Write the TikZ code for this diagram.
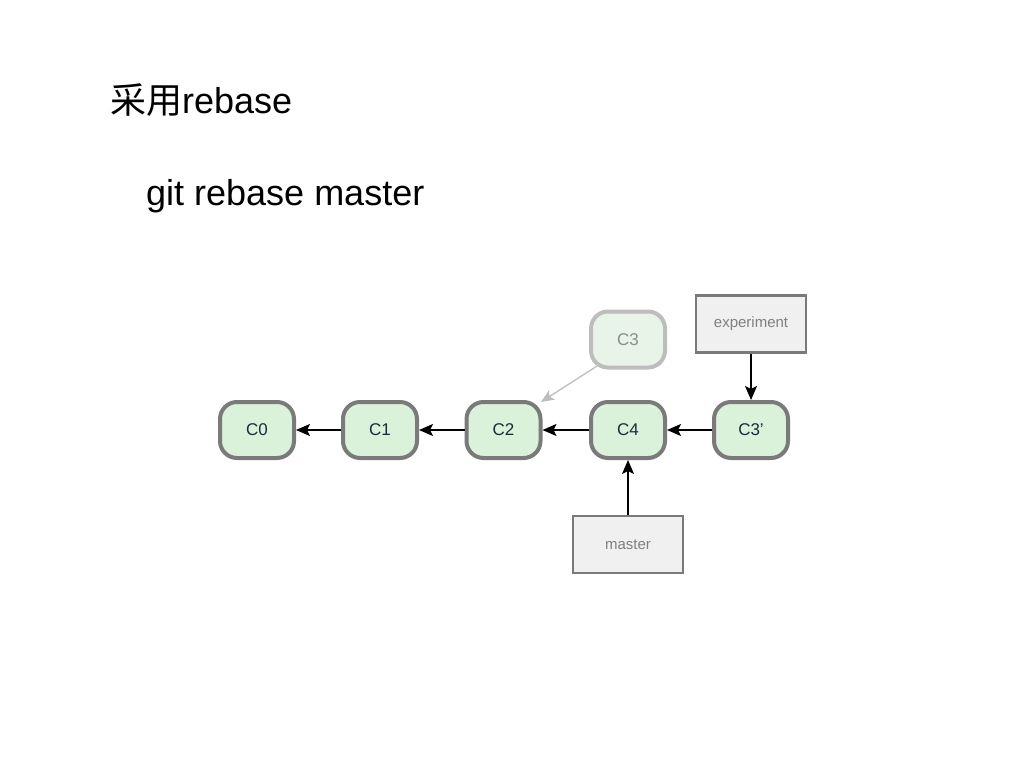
\documentclass[tikz,border=0pt]{standalone}
\usepackage{fontspec}
\setmainfont{Liberation Sans}
\newfontfamily\cjk{Noto Sans CJK SC}
\usetikzlibrary{arrows.meta}
\definecolor{cfill}{HTML}{D9F2D9}
\definecolor{cfillold}{HTML}{E9F4E9}
\definecolor{cborder}{HTML}{7A7A7A}
\definecolor{cborderold}{HTML}{BDBDBD}
\definecolor{bfill}{HTML}{F0F0F0}
\definecolor{ctext}{HTML}{1C2B3A}
\begin{document}
\begin{tikzpicture}[x=1pt,y=-1pt,
  commit/.style={draw=cborder, fill=cfill, line width=4pt, rounded corners=17pt,
    minimum width=74pt, minimum height=56pt, inner sep=0pt, text=ctext,
    font=\fontsize{17}{17}\selectfont},
  oldcommit/.style={commit, draw=cborderold, fill=cfillold, text=gray!90},
  branch/.style={draw=cborder, fill=bfill, line width=2.6pt, minimum width=110pt,
    minimum height=57pt, inner sep=0pt, text=gray, font=\fontsize{15}{15}\selectfont},
  link/.style={-{Stealth[length=14pt,width=12pt,inset=3pt]}, line width=1.6pt, black},
  oldlink/.style={-{Stealth[length=13pt,width=11pt,inset=3pt]}, line width=1.3pt, cborderold}]
\useasboundingbox[fill=white] (0,0) rectangle (1024,768);
\node[anchor=base west, inner sep=0pt, font=\fontsize{36}{36}\selectfont] (title) at (110,113) {{\cjk 采用}rebase};
\node[anchor=base west, inner sep=0pt, font=\fontsize{36}{36}\selectfont] (cmd) at (146,205) {git rebase master};
\node[commit] (c0) at (257,430) {C0};
\node[commit] (c1) at (380,430) {C1};
\node[commit] (c2) at (503.5,430) {C2};
\node[commit] (c4) at (628,430) {C4};
\node[commit] (c3p) at (751,430) {C3'};
\node[oldcommit] (c3) at (628,339.5) {C3};
\node[branch] (exp) at (751,324) {experiment};
\node[branch] (master) at (628,544.5) {master};
\coordinate (c3out) at (597,366);
\coordinate (c2in) at (541,402);
\draw[link] (c1.west) -- (c0.east);
\draw[link] (c2.west) -- (c1.east);
\draw[link] (c4.west) -- (c2.east);
\draw[link] (c3p.west) -- (c4.east);
\draw[link] (exp.south) -- (c3p.north);
\draw[link] (master.north) -- (c4.south);
\draw[oldlink] (c3out) -- (c2in);
\end{tikzpicture}
\end{document}
